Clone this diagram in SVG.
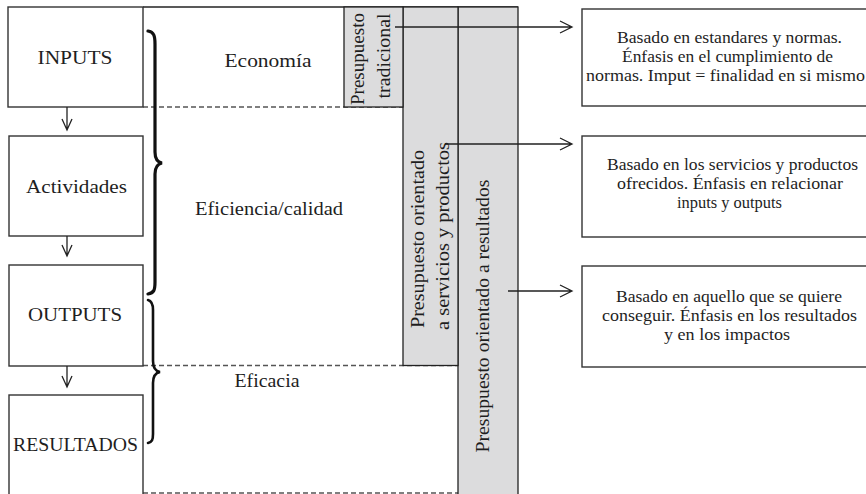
<svg xmlns="http://www.w3.org/2000/svg" width="866" height="494" viewBox="0 0 866 494" font-family="'Liberation Serif', 'DejaVu Serif', 'Noto Serif', serif">
<style>
text{font-family:'Liberation Serif','DejaVu Serif','Noto Serif',serif;fill:#1e1e1e}
.lbl{font-size:19px;text-anchor:middle}
.vt{font-size:18px;text-anchor:middle}
.rt{font-size:16.5px;text-anchor:middle}
.box{fill:#fff;stroke:#333;stroke-width:1.4}
.grey{fill:#dcdcdd;stroke:#222;stroke-width:1.3}
.dash{stroke:#555;stroke-width:1.3;stroke-dasharray:5 3;fill:none}
.ln{stroke:#222;stroke-width:1.3;fill:none}
.brace{stroke:#111;fill:none;stroke-linecap:round}
</style>
<rect width="866" height="494" fill="#fff"/>
<g id="frame">
<line class="ln" x1="143" y1="7" x2="518" y2="7"/>
<line class="dash" x1="143" y1="107" x2="453" y2="107"/>
<line class="dash" x1="143" y1="365.5" x2="458" y2="365.5"/>
<line class="dash" x1="143" y1="493" x2="458" y2="493"/>
<text class="lbl" x="268" y="67" textLength="87" lengthAdjust="spacingAndGlyphs">Economía</text>
<text class="lbl" x="269" y="215" textLength="148" lengthAdjust="spacingAndGlyphs">Eficiencia/calidad</text>
<text class="lbl" x="267" y="387" textLength="65" lengthAdjust="spacingAndGlyphs">Eficacia</text>
</g>
<g id="presupuesto-resultados">
<rect class="grey" x="458" y="7" width="60" height="492"/>
<text class="vt" transform="translate(489,316) rotate(-90)" textLength="273" lengthAdjust="spacingAndGlyphs">Presupuesto orientado a resultados</text>
</g>
<g id="presupuesto-servicios">
<rect class="grey" x="403" y="7" width="55" height="358.5"/>
<text class="vt" transform="translate(424,239) rotate(-90)" textLength="178" lengthAdjust="spacingAndGlyphs">Presupuesto orientado</text>
<text class="vt" transform="translate(449,236) rotate(-90)" textLength="188" lengthAdjust="spacingAndGlyphs">a servicios y productos</text>
</g>
<g id="presupuesto-tradicional">
<rect class="grey" x="344" y="7" width="59" height="100"/>
<text class="vt" transform="translate(364,59) rotate(-90)" textLength="92" lengthAdjust="spacingAndGlyphs">Presupuesto</text>
<text class="vt" transform="translate(390,56) rotate(-90)" textLength="85" lengthAdjust="spacingAndGlyphs">tradicional</text>
</g>
<g id="inputs">
<rect class="box" x="8" y="7" width="135" height="100"/>
<text class="lbl" x="75" y="64" textLength="75" lengthAdjust="spacingAndGlyphs">INPUTS</text>
</g>
<g id="actividades">
<rect class="box" x="9" y="136" width="134" height="100"/>
<text class="lbl" x="76.5" y="193" textLength="101" lengthAdjust="spacingAndGlyphs">Actividades</text>
</g>
<g id="outputs">
<rect class="box" x="9" y="265" width="134" height="101"/>
<text class="lbl" x="75" y="321" textLength="94" lengthAdjust="spacingAndGlyphs">OUTPUTS</text>
</g>
<g id="resultados">
<rect class="box" x="9" y="395" width="134" height="110"/>
<text class="lbl" x="75.5" y="451" textLength="125" lengthAdjust="spacingAndGlyphs">RESULTADOS</text>
</g>
<g id="desc-tradicional">
<rect class="box" x="582" y="9" width="300" height="97"/>
<text class="rt" x="729.5" y="43" textLength="225" lengthAdjust="spacingAndGlyphs">Basado en estandares y normas.</text>
<text class="rt" x="727.5" y="62" textLength="211" lengthAdjust="spacingAndGlyphs">Énfasis en el cumplimiento de</text>
<text class="rt" x="725.5" y="81" textLength="279" lengthAdjust="spacingAndGlyphs">normas. Imput = finalidad en si mismo</text>
</g>
<g id="desc-servicios">
<rect class="box" x="582" y="136" width="300" height="101"/>
<text class="rt" x="732.5" y="170" textLength="251" lengthAdjust="spacingAndGlyphs">Basado en los servicios y productos</text>
<text class="rt" x="730" y="189" textLength="226" lengthAdjust="spacingAndGlyphs">ofrecidos. Énfasis en relacionar</text>
<text class="rt" x="729.5" y="208" textLength="105" lengthAdjust="spacingAndGlyphs">inputs y outputs</text>
</g>
<g id="desc-resultados">
<rect class="box" x="582" y="266" width="300" height="101"/>
<text class="rt" x="729" y="302" textLength="226" lengthAdjust="spacingAndGlyphs">Basado en aquello que se quiere</text>
<text class="rt" x="729.5" y="321" textLength="255" lengthAdjust="spacingAndGlyphs">conseguir. Énfasis en los resultados</text>
<text class="rt" x="727" y="340" textLength="126" lengthAdjust="spacingAndGlyphs">y en los impactos</text>
</g>
<g id="braces">
<path class="brace" stroke-width="3.2" d="M148,31 C154,32 155,36 155,44 L155,152 C155,158 157,162 162,163 C157,164 155,168 155,174 L155,282 C155,290 154,293 148,294"/>
<path class="brace" stroke-width="2.6" d="M148,300 C152,301 153,304 153,310 L153,361 C153,367 155,371 160,372 C155,373 153,377 153,383 L153,434 C153,440 152,442 148,443"/>
</g>
<g id="connectors">
<path class="ln" d="M67,107 V130 M62,119 L67,130 L72,119"/>
<path class="ln" d="M67,236 V256 M62,245 L67,256 L72,245"/>
<path class="ln" d="M67,366 V387 M62,376 L67,387 L72,376"/>
<path class="ln" d="M395,27 H572 M560,21 L572,27 L560,33"/>
<path class="ln" d="M445,144 H572 M560,138 L572,144 L560,150"/>
<path class="ln" d="M508,291 H572 M560,285 L572,291 L560,297"/>
</g>
</svg>
